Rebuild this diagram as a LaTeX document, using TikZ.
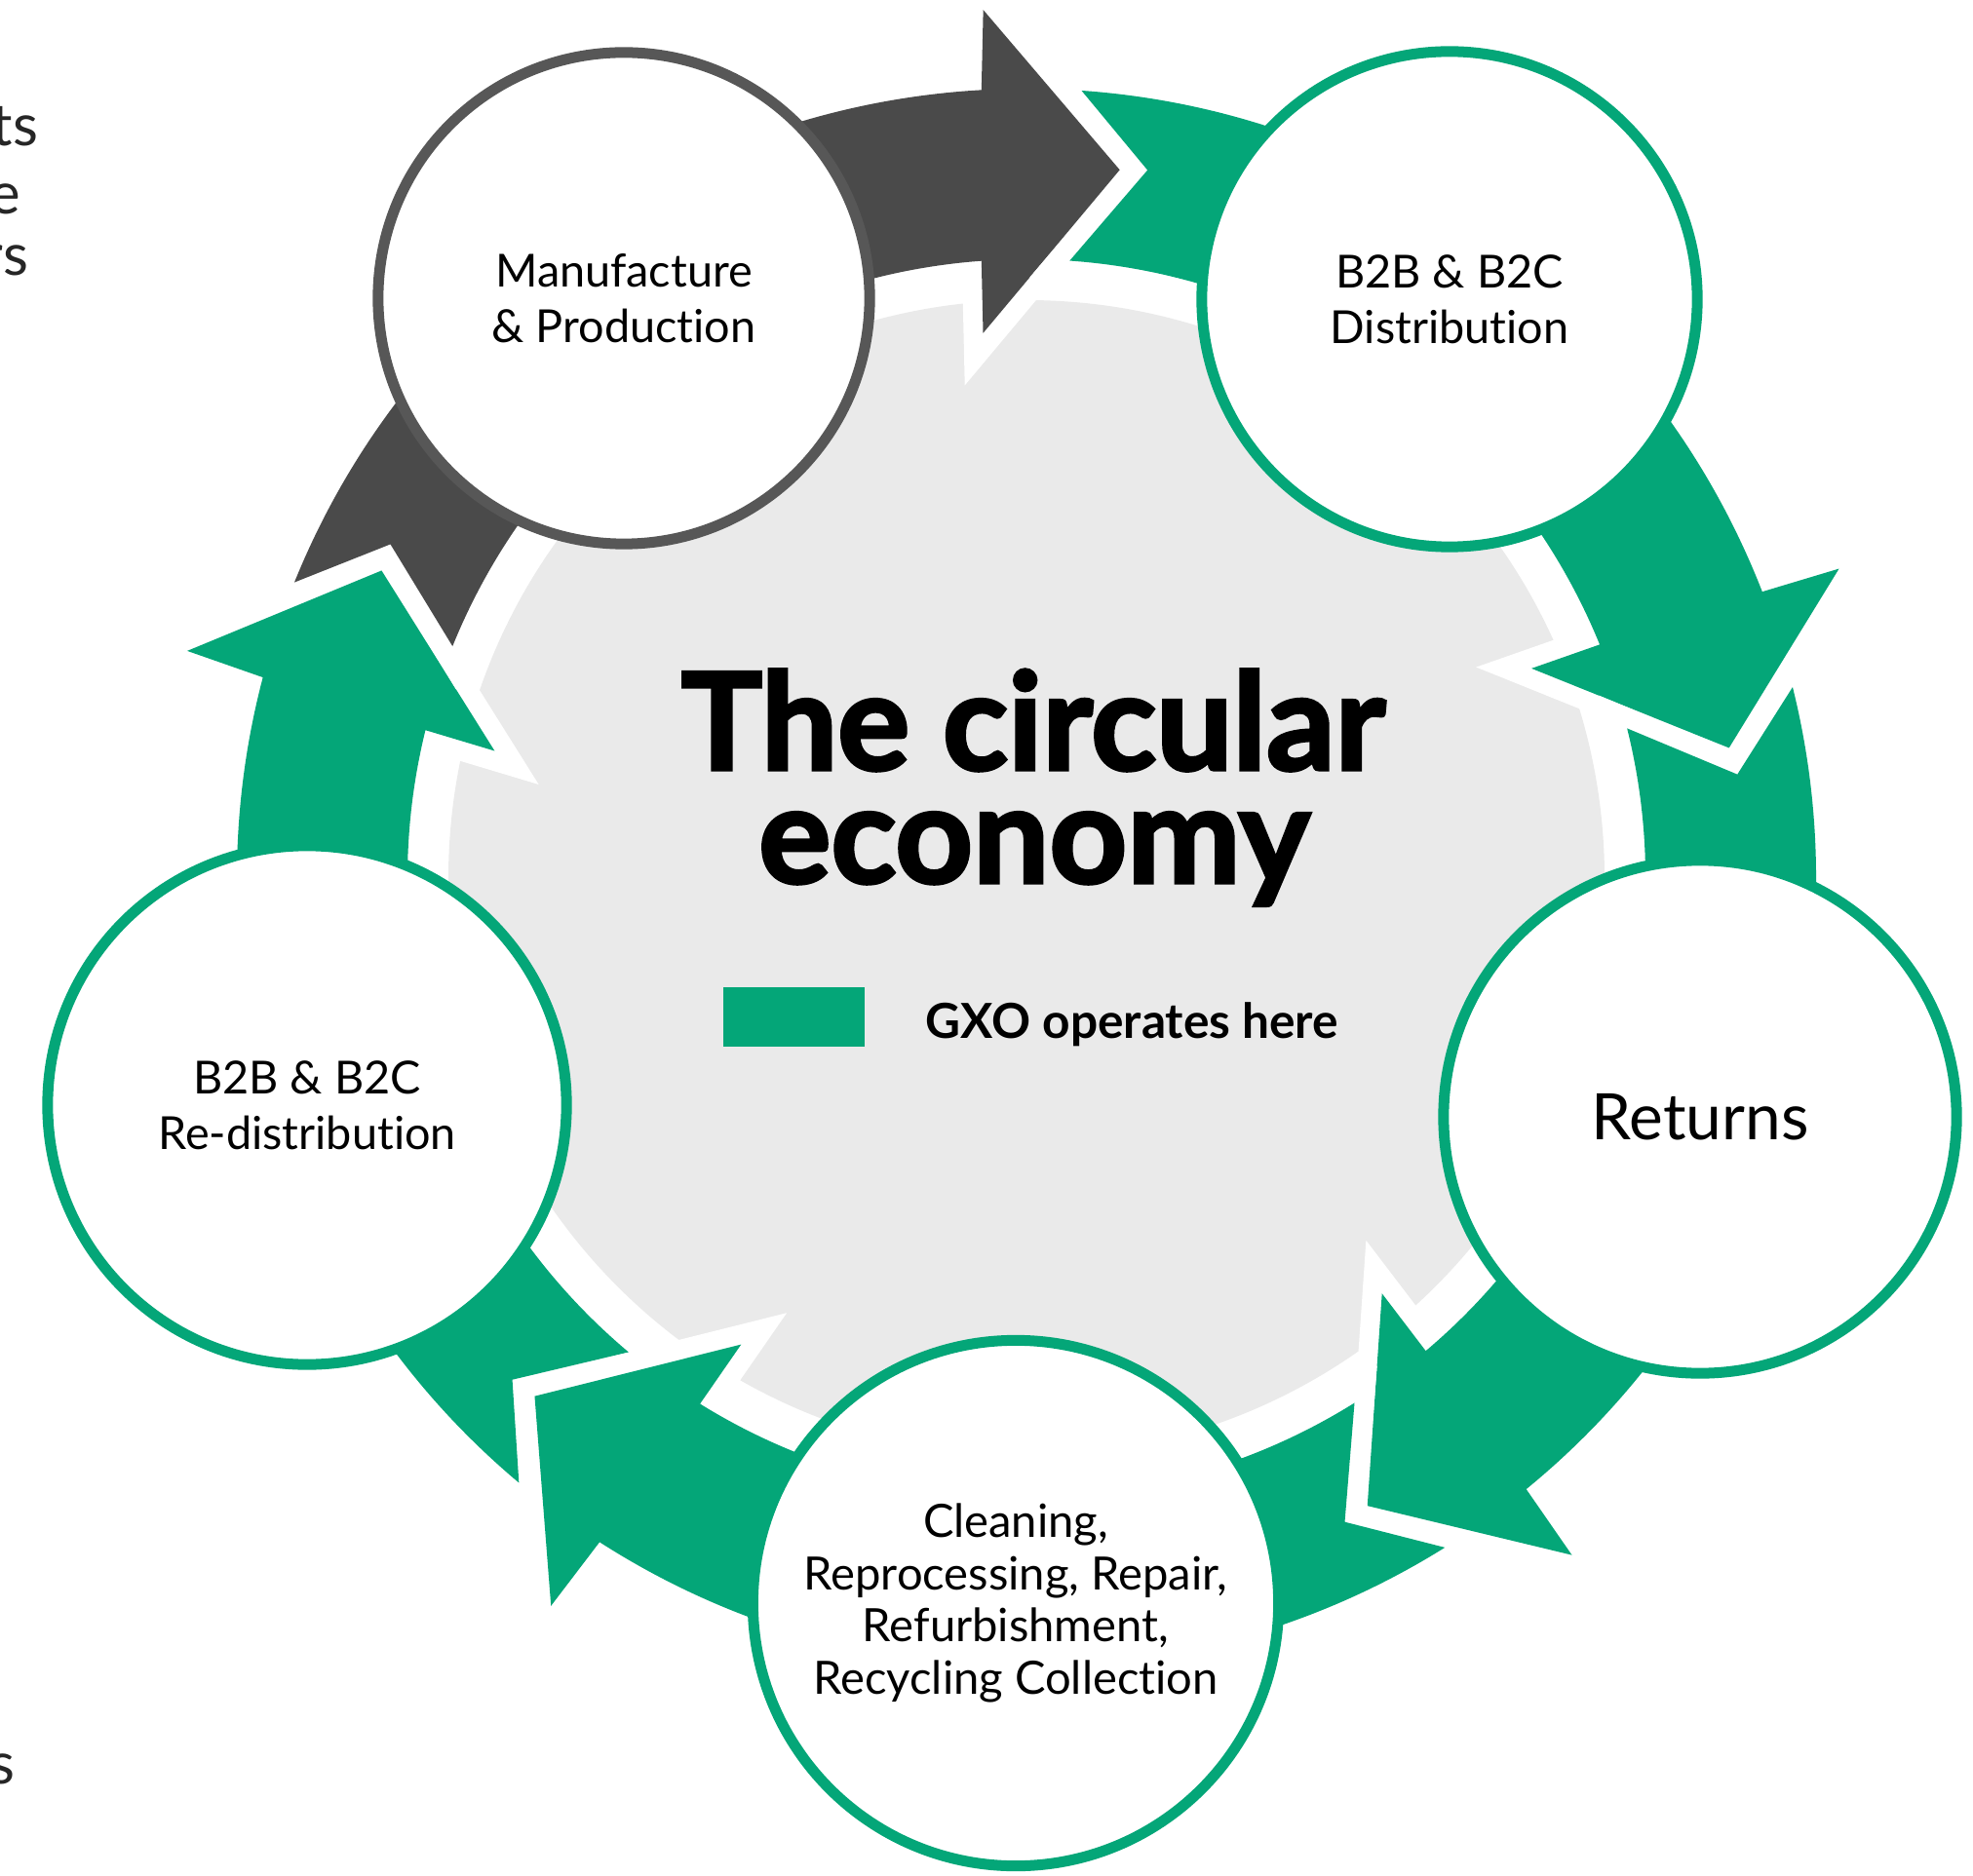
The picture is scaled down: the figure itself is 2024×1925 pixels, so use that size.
\documentclass[tikz,border=0pt]{standalone}
\usepackage{fontspec}
\setmainfont{Lato}[Ligatures=NoCommon]
\newfontfamily\titlefont{Lato}[FakeBold=2.5, Ligatures=NoCommon]
\definecolor{gxogreen}{RGB}{4,166,120}
\definecolor{arrowgray}{RGB}{74,74,74}
\definecolor{ringgray}{RGB}{87,87,87}
\definecolor{diskgray}{RGB}{234,234,234}
\newcommand{\ringarrow}[2]{%
  \pgfmathsetmacro{\aT}{#1}%
  \pgfmathsetmacro{\aA}{#1-5.7}%
  \pgfmathsetmacro{\aHo}{#1-64.3-0.43}%
  \pgfmathsetmacro{\aHi}{#1-64.3+0.47}%
  \pgfmathsetmacro{\aBo}{#1-64.3-0.85}%
  \pgfmathsetmacro{\aBi}{#1-64.3+0.85}%
  \pgfmathsetmacro{\aP}{#1-75.5}%
  \path[fill=#2, preaction={draw=white, line width=0.4cm, line join=miter}]
    (\aT:810) arc[start angle=\aT, end angle=\aHo, radius=810]
    -- (\aBo:892) -- (\aP:733) -- (\aBi:561) -- (\aHi:635)
    arc[start angle=\aHi, end angle=\aT, radius=635]
    -- (\aA:737) -- cycle;
}
\begin{document}
\begin{tikzpicture}[x=0.01cm, y=0.01cm,
  stage/.style={circle, fill=white, line width=0.11cm, inner sep=0pt,
    align=center, text=black, font=\fontsize{13.3}{16.2}\selectfont},
  greenstage/.style={stage, draw=gxogreen},
  graystage/.style={stage, draw=ringgray},
  fragment/.style={anchor=base east, inner sep=0pt, text=black!85,
    font=\fontsize{17}{20}\selectfont},
  titleline/.style={anchor=base, inner sep=0pt,
    font=\titlefont\bfseries\fontsize{39.5}{42}\selectfont}]
\useasboundingbox (0,0) rectangle (2024,-1925);

% central disk
\fill[diskgray] (1053,-901) circle[radius=593];

% ring of arrows
\begin{scope}[shift={(1053,-901)}]
  \ringarrow{-130}{gxogreen}
  \ringarrow{158}{arrowgray}
  \ringarrow{86}{gxogreen}
  \ringarrow{14}{gxogreen}
  \ringarrow{-58}{gxogreen}
\end{scope}

% stages
\node[graystage, minimum size=5.04cm] (manu) at (640,-306) {Manufacture\\\& Production};
\node[greenstage, minimum size=5.08cm] (dist) at (1487,-307) {B2B \& B2C\\Distribution};
\node[greenstage, minimum size=5.26cm, font=\fontsize{18.7}{21}\selectfont] (ret) at (1744,-1146) {Returns};
\node[greenstage, minimum size=5.39cm, font=\fontsize{13.4}{15.2}\selectfont] (clean) at (1042,-1645)
  {Cleaning,\\Reprocessing, Repair,\\Refurbishment,\\Recycling Collection};
\node[greenstage, minimum size=5.32cm] (redist) at (315,-1134) {B2B \& B2C\\Re-distribution};

% title
\node[titleline] (title1) at (1060,-790) {The circular};
\node[titleline] (title2) at (1061,-906) {economy};

% legend
\node[fill=gxogreen, minimum width=1.45cm, minimum height=0.61cm, inner sep=0pt] (legendbox) at (814.5,-1043.5) {};
\node[anchor=base west, inner sep=0pt, font=\bfseries\fontsize{14.1}{16}\selectfont] (legendtext) at (949,-1065) {GXO operates here};

% cut-off text at left edge
\node[fragment] (frag1) at (40,-150) {ts};
\node[fragment] (frag2) at (22,-220) {e};
\node[fragment] (frag3) at (30,-283) {rs};
\node[fragment] (frag4) at (16,-1830) {s};
\end{tikzpicture}
\end{document}
